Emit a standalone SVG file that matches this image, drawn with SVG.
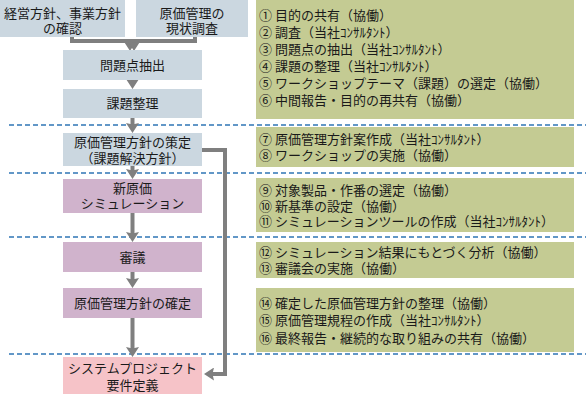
<svg xmlns="http://www.w3.org/2000/svg" width="587" height="403" viewBox="0 0 587 403">
<style>
text{font-family:"Noto Sans CJK JP","Noto Sans",sans-serif;font-size:13px;fill:#1a1a1a}
.c{text-anchor:middle}
.blue{fill:#CBD7E0}
.purple{fill:#D0B3CC}
.pink{fill:#F6C3C8}
.green{fill:#C4CB93}
.dash{stroke:#2F75B5;stroke-width:1.3;stroke-dasharray:5 3;fill:none}
.conn{stroke:#7F7F7F;stroke-width:4;fill:none;marker-end:url(#ah)}
</style>
<defs>
<marker id="ah" viewBox="0 0 10 13" markerWidth="10" markerHeight="13" refX="4" refY="6.5" orient="auto" markerUnits="userSpaceOnUse">
<path d="M0,0 L10,6.5 L0,13 L1.5,6.5 z" fill="#7F7F7F"/>
</marker>
</defs>
<rect width="587" height="403" fill="#ffffff"/>
<g id="separators">
<line class="dash" x1="9" y1="125" x2="586" y2="125"/>
<line class="dash" x1="9" y1="173" x2="586" y2="173"/>
<line class="dash" x1="9" y1="237" x2="586" y2="237"/>
<line class="dash" x1="9" y1="354" x2="586" y2="354"/>
</g>
<g id="connectors">
<path class="conn" d="M72,37 V41 H130 V45"/>
<path class="conn" d="M195,37 V41 H134 V45"/>
<path class="conn" d="M132.5,80 V83"/>
<path class="conn" d="M132.5,118 V127"/>
<path class="conn" d="M132.5,166 V173"/>
<path class="conn" d="M132.5,213 V236"/>
<path class="conn" d="M132.5,272 V282"/>
<path class="conn" d="M132.5,318 V351"/>
<path class="conn" d="M202,150 H225 V374 H210"/>
</g>
<g id="n-policy">
<rect class="blue" x="0" y="0" width="125" height="37"/>
<text class="c" x="62.5" y="17.5">経営方針、事業方針</text>
<text class="c" x="62.5" y="32.5">の確認</text>
</g>
<g id="n-survey">
<rect class="blue" x="136" y="0" width="112" height="37"/>
<text class="c" x="192" y="17.5">原価管理の</text>
<text class="c" x="192" y="32.5">現状調査</text>
</g>
<g id="n-problem">
<rect class="blue" x="63" y="50" width="139" height="30"/>
<text class="c" x="132.5" y="69.5">問題点抽出</text>
</g>
<g id="n-issue">
<rect class="blue" x="63" y="89" width="139" height="29"/>
<text class="c" x="132.5" y="108">課題整理</text>
</g>
<g id="n-strategy">
<rect class="blue" x="63" y="133" width="139" height="33"/>
<text class="c" x="132.5" y="147">原価管理方針の策定</text>
<text class="c" x="132.5" y="163">（課題解決方針）</text>
</g>
<g id="n-simulation">
<rect class="purple" x="63" y="179" width="139" height="34"/>
<text class="c" x="132.5" y="193">新原価</text>
<text class="c" x="132.5" y="208">シミュレーション</text>
</g>
<g id="n-review">
<rect class="purple" x="63" y="242" width="139" height="30"/>
<text class="c" x="132.5" y="261.5">審議</text>
</g>
<g id="n-confirm">
<rect class="purple" x="63" y="288" width="139" height="30"/>
<text class="c" x="132.5" y="307.5">原価管理方針の確定</text>
</g>
<g id="n-system">
<rect class="pink" x="63" y="357" width="139" height="37"/>
<text class="c" x="132.5" y="373">システムプロジェクト</text>
<text class="c" x="132.5" y="390">要件定義</text>
</g>
<g id="panel-1">
<rect class="green" x="256" y="0" width="318" height="119"/>
<text x="259" y="19.5">① 目的の共有（協働）</text>
<text x="259" y="36.5">② 調査（当社ｺﾝｻﾙﾀﾝﾄ）</text>
<text x="259" y="53.5">③ 問題点の抽出（当社ｺﾝｻﾙﾀﾝﾄ）</text>
<text x="259" y="70.5">④ 課題の整理（当社ｺﾝｻﾙﾀﾝﾄ）</text>
<text x="259" y="87.5">⑤ ワークショップテーマ（課題）の選定（協働）</text>
<text x="259" y="104.5">⑥ 中間報告・目的の再共有（協働）</text>
</g>
<g id="panel-2">
<rect class="green" x="256" y="127" width="318" height="40"/>
<text x="259" y="143.5">⑦ 原価管理方針案作成（当社ｺﾝｻﾙﾀﾝﾄ）</text>
<text x="259" y="159.5">⑧ ワークショップの実施（協働）</text>
</g>
<g id="panel-3">
<rect class="green" x="256" y="178" width="318" height="54"/>
<text x="259" y="195">⑨ 対象製品・作番の選定（協働）</text>
<text x="259" y="210.5">⑩ 新基準の設定（協働）</text>
<text x="259" y="226">⑪ シミュレーションツールの作成（当社ｺﾝｻﾙﾀﾝﾄ）</text>
</g>
<g id="panel-4">
<rect class="green" x="256" y="242" width="318" height="36"/>
<text x="259" y="256.5">⑫ シミュレーション結果にもとづく分析（協働）</text>
<text x="259" y="272.5">⑬ 審議会の実施（協働）</text>
</g>
<g id="panel-5">
<rect class="green" x="256" y="288" width="318" height="64"/>
<text x="259" y="307.5">⑭ 確定した原価管理方針の整理（協働）</text>
<text x="259" y="325">⑮ 原価管理規程の作成（当社ｺﾝｻﾙﾀﾝﾄ）</text>
<text x="259" y="342.5">⑯ 最終報告・継続的な取り組みの共有（協働）</text>
</g>
</svg>
